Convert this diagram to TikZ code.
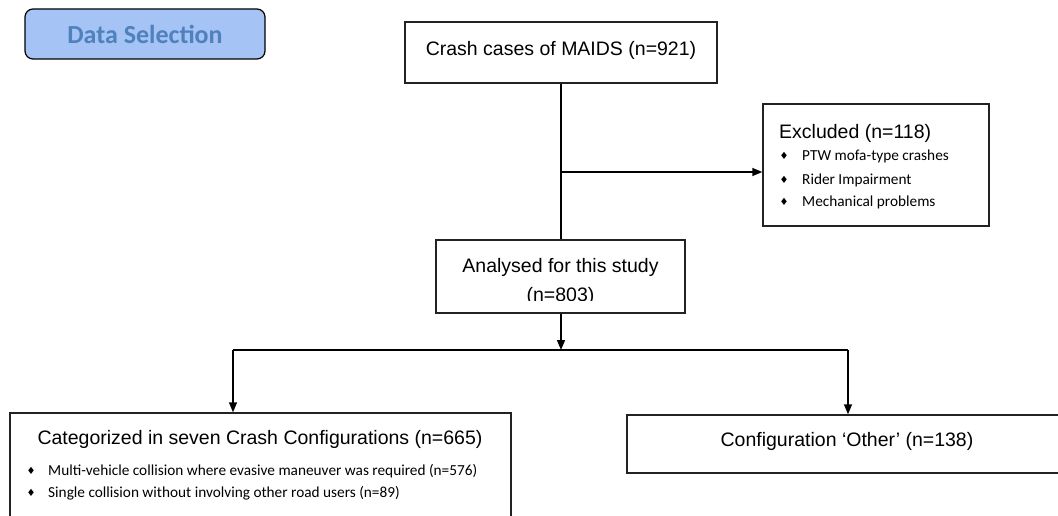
\documentclass[tikz,border=0pt]{standalone}
\usepackage{fontspec}
\setmainfont{Liberation Sans}
\newfontfamily\carlito{Carlito}
\newfontfamily\dejavu{DejaVu Sans}
\usetikzlibrary{arrows.meta}
\definecolor{dsfill}{HTML}{A5C3F5}
\definecolor{dstext}{HTML}{4F81BD}
\definecolor{edge}{HTML}{222222}
\begin{document}
\begin{tikzpicture}[x=1pt,y=-1pt,
  box/.style={draw=edge,line width=1.4pt,inner sep=0pt,rectangle},
  main/.style={font=\fontsize{19.5}{23}\selectfont, inner sep=0pt},
  bul/.style={font=\carlito\fontsize{15.3}{18}\selectfont, inner sep=0pt, anchor=west},
  dia/.style={font=\dejavu\fontsize{10}{11}\selectfont, inner sep=0pt},
  conn/.style={line width=1.4pt},
  arr/.style={line width=1.4pt,-{Triangle[width=8pt,length=10pt]}}]
\useasboundingbox (0,0) rectangle (1058,516);
\fill[white] (0,0) rectangle (1058,516);
\clip (0,0) rectangle (1058,516);

% Data selection label
\node[draw=black, rounded corners=8pt, fill=dsfill, line width=1.2pt,
      minimum width=240pt, minimum height=50pt, inner sep=0pt, text=dstext,
      font=\carlito\bfseries\fontsize{26}{30}\selectfont] (ds) at (145,34) {Data Selection};

% Crash cases box
\node[box, minimum width=312pt, minimum height=61pt] (crash) at (561,52.5) {};
\node[main] (crasht) at (561,50) {Crash cases of MAIDS (n=921)};

% Excluded box
\node[box, minimum width=226pt, minimum height=122pt] (excl) at (876,165) {};
\node[main, anchor=west] (exclt) at (779,133) {Excluded (n=118)};
\node[dia] (d1) at (784,156) {♦};
\node[bul] (b1) at (802,156) {PTW mofa-type crashes};
\node[dia] (d2) at (784,180) {♦};
\node[bul] (b2) at (802,180) {Rider Impairment};
\node[dia] (d3) at (784,202) {♦};
\node[bul] (b3) at (802,202) {Mechanical problems};

% Analysed box
\node[box, minimum width=249pt, minimum height=73pt] (an) at (560.5,276.5) {};
\node[main] (ant1) at (560.5,267) {Analysed for this study};
\begin{scope}
  \clip (437,242) rectangle (684,300);
  \node[main] (ant2) at (560.5,296) {(n=803)};
\end{scope}

% Bottom-left box
\node[box, minimum width=501pt, minimum height=140pt] (cat) at (260.5,483) {};
\node[main] (catt) at (260,439) {Categorized in seven Crash Configurations (n=665)};
\node[dia] (d4) at (31,471) {♦};
\node[bul] (b4) at (48,471) {Multi-vehicle collision where evasive maneuver was required (n=576)};
\node[dia] (d5) at (31,493) {♦};
\node[bul] (b5) at (48,493) {Single collision without involving other road users (n=89)};

% Bottom-right box
\node[box, minimum width=440pt, minimum height=58pt] (oth) at (847,444) {};
\node[main] (otht) at (847,441) {Configuration ‘Other’ (n=138)};

% connectors
\coordinate (j1) at (561,172);
\coordinate (j2) at (561,350);
\coordinate (bl) at (233,350);
\coordinate (br) at (848,350);
\draw[conn] (crash.south) -- (crash.south |- an.north);
\draw[arr] (j1) -- (j1 -| excl.west);
\draw[arr] (j2 |- an.south) -- (j2);
\draw[conn] (bl) -- (br);
\draw[arr] (bl) -- (bl |- cat.north);
\draw[arr] (br) -- (br |- oth.north);
\end{tikzpicture}
\end{document}
